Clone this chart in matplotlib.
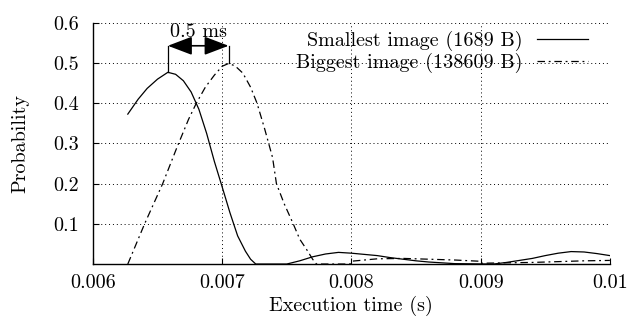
import numpy as np
import matplotlib
matplotlib.use("Agg")
from matplotlib import pyplot as plt

# execution time (s) / probability
small_x = [0.00627, 0.00635, 0.00642, 0.0065, 0.00658, 0.00664, 0.0067, 0.00676,
           0.00682, 0.00688, 0.00694, 0.007, 0.00706, 0.00712, 0.00718, 0.00722,
           0.00726, 0.0075, 0.0076, 0.0077, 0.0078, 0.0079, 0.008, 0.0081, 0.0082,
           0.0083, 0.0084, 0.0085, 0.0086, 0.0088, 0.0091, 0.0092, 0.0093, 0.0094,
           0.0095, 0.0096, 0.0097, 0.0098, 0.0099, 0.01]
small_y = [0.373, 0.41, 0.437, 0.46, 0.477, 0.472, 0.456, 0.428,
           0.385, 0.325, 0.255, 0.192, 0.128, 0.07, 0.032, 0.012,
           0.0, 0.0, 0.008, 0.018, 0.025, 0.029, 0.027, 0.024, 0.021,
           0.016, 0.012, 0.008, 0.005, 0.001, 0.0, 0.004, 0.009, 0.014,
           0.021, 0.027, 0.031, 0.03, 0.026, 0.021]

big_x = [0.00627, 0.0064, 0.00654, 0.00665, 0.00674, 0.0068, 0.00687, 0.00694,
         0.007, 0.00705, 0.0071, 0.00716, 0.00722, 0.00727, 0.00733, 0.00739,
         0.00742, 0.00748, 0.00755, 0.0076, 0.00766, 0.0077, 0.00773, 0.00799,
         0.008, 0.0082, 0.0084, 0.0086, 0.0088, 0.00899, 0.009, 0.0092, 0.0094,
         0.0096, 0.0098, 0.01]
big_y = [0.0, 0.1, 0.2, 0.29, 0.36, 0.4, 0.44, 0.47,
         0.492, 0.499, 0.493, 0.475, 0.44, 0.4, 0.335, 0.265,
         0.2, 0.15, 0.1, 0.062, 0.033, 0.012, 0.0, 0.0,
         0.007, 0.013, 0.014, 0.012, 0.01, 0.007, 0.002, 0.003, 0.004,
         0.006, 0.008, 0.009]

x_ticks = [0.006, 0.007, 0.008, 0.009, 0.01]
x_labels = ["0.006", "0.007", "0.008", "0.009", "0.01"]
y_ticks = [0.1, 0.2, 0.3, 0.4, 0.5, 0.6]
y_labels = ["0.1", "0.2", "0.3", "0.4", "0.5", "0.6"]


def main():
    plt.rcParams["font.family"] = ["cmr10", "DejaVu Serif"]
    plt.rcParams["mathtext.fontset"] = "cm"
    plt.rcParams["axes.formatter.use_mathtext"] = True

    fs = 14.5
    fig = plt.figure(figsize=(6.32, 3.22), dpi=100)
    ax = fig.add_axes([0.147, 0.180, 0.818, 0.749])

    ax.plot(small_x, small_y, color="black", lw=0.9,
            label="Smallest image (1689 B)")
    ax.plot(big_x, big_y, color="black", lw=0.9, dashes=[6, 3, 1.5, 3],
            label="Biggest image (138609 B)")

    ax.set_xlim(0.006, 0.01)
    ax.set_ylim(0, 0.6)
    ax.set_xticks(x_ticks)
    ax.set_xticklabels(x_labels)
    ax.set_yticks(y_ticks)
    ax.set_yticklabels(y_labels)
    ax.tick_params(direction="in", length=4, width=0.8, labelsize=fs)
    ax.tick_params(axis="y", pad=10)
    ax.tick_params(axis="x", pad=7)

    ax.grid(True, color="black", linestyle=(0, (1, 3)), lw=0.7)
    ax.spines["top"].set_visible(False)
    ax.spines["right"].set_visible(False)
    ax.spines["left"].set_linewidth(1.0)
    ax.spines["bottom"].set_linewidth(1.0)

    ax.set_xlabel("Execution time (s)", fontsize=fs, labelpad=3)
    ax.set_ylabel("Probability", fontsize=fs, labelpad=17)

    # peak-to-peak annotation
    i_s = int(np.argmax(small_y))
    i_b = int(np.argmax(big_y))
    xs, ys = small_x[i_s], small_y[i_s]
    xb, yb = big_x[i_b], big_y[i_b]
    y_arrow = 0.543
    ax.plot([xs, xs], [ys, y_arrow], color="black", lw=0.9)
    ax.plot([xb, xb], [yb, y_arrow], color="black", lw=0.9)
    ax.annotate("", xy=(xs, y_arrow), xytext=(xb, y_arrow),
                arrowprops=dict(arrowstyle="<|-|>,head_length=1.0,head_width=0.38",
                                color="black", lw=1.2, shrinkA=0, shrinkB=0,
                                mutation_scale=15))
    ax.text((xs + xb) / 2, 0.556, "0.5 ms", ha="center", va="bottom",
            fontsize=fs)

    ax.legend(loc="upper right", bbox_to_anchor=(0.957, 0.965), frameon=False,
              markerfirst=False, fontsize=fs, handlelength=2.5,
              handletextpad=0.75, labelspacing=0.08, borderaxespad=0,
              borderpad=0)

    fig.savefig("out.png", dpi=100)


if __name__ == "__main__":
    main()
